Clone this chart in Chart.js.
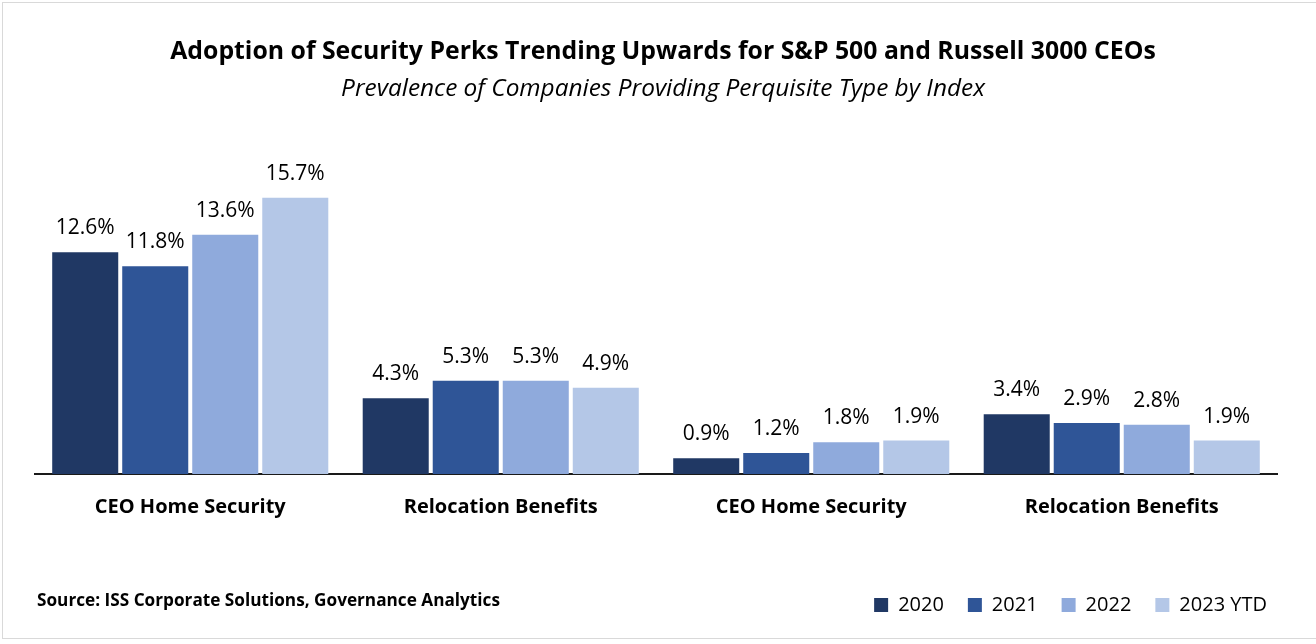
<!DOCTYPE html>
<html>
<head>
<meta charset="utf-8">
<script src="https://cdn.jsdelivr.net/npm/chart.js@4.4.1/dist/chart.umd.min.js"></script>
<style>
  html, body { margin: 0; padding: 0; background: #ffffff; overflow: hidden; }
  #frame { position: absolute; left: 2px; top: 2px; width: 1330px; height: 637px; border: 1px solid #d9d9d9; box-sizing: border-box; }
  #wrap { position: absolute; left: 0; top: 0; width: 1316px; height: 644px; }
</style>
</head>
<body>
<div id="frame"></div>
<div id="wrap"><canvas id="c" width="1316" height="644"></canvas></div>
<script>
const categories = ["CEO Home Security", "Relocation Benefits", "CEO Home Security", "Relocation Benefits"];
const seriesNames = ["2020", "2021", "2022", "2023 YTD"];
const values2020 = [12.6, 4.3, 0.9, 3.4];
const values2021 = [11.8, 5.3, 1.2, 2.9];
const values2022 = [13.6, 5.3, 1.8, 2.8];
const values2023 = [15.7, 4.9, 1.9, 1.9];
const colors = ["#203864", "#2F5597", "#8FAADC", "#B4C7E7"];
const titleText = "Adoption of Security Perks Trending Upwards for S&P 500 and Russell 3000 CEOs";
const subtitleText = "Prevalence of Companies Providing Perquisite Type by Index";
const sourceText = "Source: ISS Corporate Solutions, Governance Analytics";

const FONT = "'Open Sans', Lato, sans-serif";

const valueLabels = {
  id: 'valueLabels',
  afterDatasetsDraw(chart) {
    const ctx = chart.ctx;
    ctx.save();
    ctx.font = "21px " + FONT;
    ctx.fillStyle = "#000000";
    ctx.textAlign = "center";
    ctx.textBaseline = "alphabetic";
    chart.data.datasets.forEach((ds, di) => {
      const meta = chart.getDatasetMeta(di);
      meta.data.forEach((el, i) => {
        ctx.fillText(ds.data[i].toFixed(1) + "%", el.x, el.y - 18);
      });
    });
    ctx.restore();
  }
};

const sourceNote = {
  id: 'sourceNote',
  afterDraw(chart) {
    const ctx = chart.ctx;
    ctx.save();
    ctx.font = "bold 17.2px " + FONT;
    ctx.fillStyle = "#000000";
    ctx.textAlign = "left";
    ctx.textBaseline = "middle";
    ctx.fillText(sourceText, 37, 601);
    ctx.restore();
  }
};

const datasets = [values2020, values2021, values2022, values2023].map((vals, i) => ({
  label: seriesNames[i],
  data: vals,
  backgroundColor: colors[i],
  borderWidth: 0,
  categoryPercentage: 0.902,
  barPercentage: 0.943
}));

new Chart(document.getElementById('c'), {
  type: 'bar',
  data: { labels: categories, datasets },
  plugins: [valueLabels, sourceNote],
  options: {
    responsive: false,
    animation: false,
    layout: { padding: { left: 35, right: 25, top: 0, bottom: 19 } },
    plugins: {
      title: {
        display: true,
        text: titleText,
        color: "#000000",
        font: { family: FONT, size: 24.8, weight: 'bold', lineHeight: 1.2 },
        padding: { top: 37.1, bottom: 7.5 }
      },
      subtitle: {
        display: true,
        text: subtitleText,
        color: "#000000",
        font: { family: FONT, size: 24.4, style: 'italic', lineHeight: 1.2 },
        padding: { top: 0, bottom: 53.56 }
      },
      legend: {
        position: 'bottom',
        align: 'end',
        labels: {
          color: "#000000",
          font: { family: FONT, size: 20 },
          boxWidth: 14,
          boxHeight: 14,
          padding: 24
        }
      },
      tooltip: { enabled: false }
    },
    scales: {
      x: {
        grid: { display: false, drawTicks: false },
        border: { display: true, color: "#1a1a1a", width: 2 },
        ticks: {
          color: "#000000",
          font: { family: FONT, size: 20, weight: 'bold' },
          padding: 21,
          maxRotation: 0
        },
        afterFit(s) { s.height = 97; }
      },
      y: {
        display: false,
        min: 0,
        max: 18
      },
      y2: {
        display: true,
        position: 'right',
        grid: { display: false, drawTicks: false },
        border: { display: false },
        ticks: { display: false },
        afterFit(s) { s.width = 14; }
      }
    }
  }
});
</script>
</body>
</html>
